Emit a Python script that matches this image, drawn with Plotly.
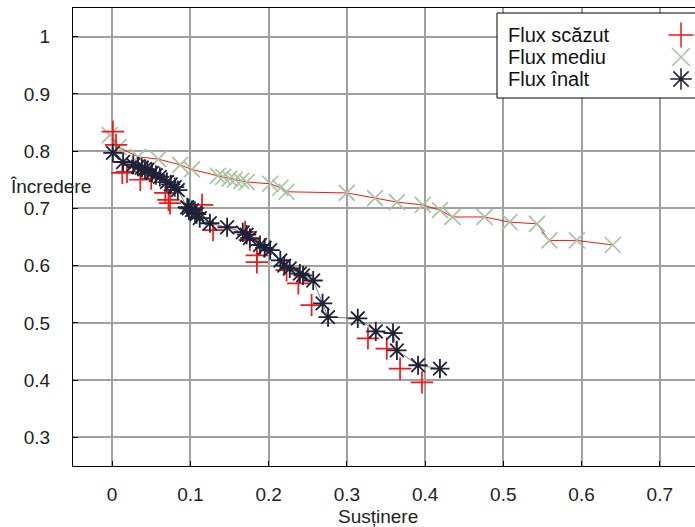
import plotly.graph_objects as go

# ---- data ----
low_x = [0.001, 0.005, 0.013, 0.019, 0.036, 0.050, 0.068, 0.072, 0.074, 0.115, 0.129, 0.170,
         0.176, 0.185, 0.185, 0.223, 0.238, 0.255, 0.327, 0.351, 0.368, 0.396]
low_y = [0.834, 0.811, 0.762, 0.764, 0.750, 0.752, 0.727, 0.715, 0.709, 0.706, 0.662, 0.659,
         0.645, 0.618, 0.606, 0.592, 0.569, 0.531, 0.473, 0.455, 0.420, 0.396]

mid_x = [-0.003, 0.008, 0.033, 0.059, 0.087, 0.102, 0.135, 0.142, 0.150, 0.157, 0.165, 0.172,
         0.202, 0.215, 0.223, 0.300, 0.336, 0.364, 0.397, 0.419, 0.435, 0.476, 0.508, 0.543,
         0.559, 0.594, 0.640]
mid_y = [0.828, 0.807, 0.790, 0.786, 0.776, 0.768, 0.757, 0.755, 0.752, 0.750, 0.748, 0.746,
         0.743, 0.736, 0.729, 0.727, 0.718, 0.711, 0.706, 0.697, 0.685, 0.685, 0.676, 0.673,
         0.644, 0.644, 0.636]

high_x = [0.001, 0.014, 0.027, 0.033, 0.038, 0.042, 0.045, 0.051, 0.056, 0.061, 0.070, 0.075,
          0.080, 0.084, 0.096, 0.098, 0.102, 0.106, 0.108, 0.112, 0.125, 0.147, 0.167, 0.172,
          0.176, 0.189, 0.195, 0.202, 0.215, 0.220, 0.227, 0.240, 0.244, 0.257, 0.269, 0.276,
          0.314, 0.337, 0.359, 0.364, 0.391, 0.419]
high_y = [0.797, 0.781, 0.776, 0.773, 0.771, 0.769, 0.767, 0.762, 0.758, 0.755, 0.746, 0.742,
          0.737, 0.732, 0.702, 0.700, 0.697, 0.692, 0.690, 0.683, 0.674, 0.667, 0.658, 0.654,
          0.648, 0.636, 0.631, 0.627, 0.609, 0.600, 0.595, 0.586, 0.583, 0.574, 0.534, 0.510,
          0.508, 0.485, 0.482, 0.452, 0.426, 0.420]

series_names = ["Flux scăzut", "Flux mediu", "Flux înalt"]
x_ticks = [0, 0.1, 0.2, 0.3, 0.4, 0.5, 0.6, 0.7]
y_ticks = [0.3, 0.4, 0.5, 0.6, 0.7, 0.8, 0.9, 1]

RED = "#f01818"
GREEN = "#a9c3a0"
NAVY = "#1d2238"
FONT = "Liberation Sans, Arial, sans-serif"

W, H = 695, 527
PL, PR, PT, PB = 73, 695, 8, 466          # plot area in pixels
L, R, T, B = PL, W - PR, PT, H - PB

fig = go.Figure()

# red connecting line through the medium-flow points
fig.add_trace(go.Scatter(x=mid_x, y=mid_y, mode="lines",
                         line=dict(color=RED, width=1), showlegend=False, hoverinfo="skip"))
# thin dark line through high-flow points
fig.add_trace(go.Scatter(x=high_x, y=high_y, mode="lines",
                         line=dict(color=NAVY, width=0.6), showlegend=False, hoverinfo="skip"))

fig.add_trace(go.Scatter(x=mid_x, y=mid_y, mode="markers", name=series_names[1],
                         marker=dict(symbol="x-thin", size=16, line=dict(color=GREEN, width=1.7)),
                         showlegend=False))
fig.add_trace(go.Scatter(x=low_x, y=low_y, mode="markers", name=series_names[0],
                         marker=dict(symbol="cross-thin", size=16, line=dict(color=RED, width=1.7)),
                         showlegend=False))
fig.add_trace(go.Scatter(x=high_x, y=high_y, mode="markers", name=series_names[2],
                         marker=dict(symbol="asterisk", size=16, line=dict(color=NAVY, width=1.8)),
                         showlegend=False))

# ---- custom legend (gnuplot style: text left, symbol right) on overlay axes ----
def px_x(px):
    return (px - PL) / (PR - PL)

def px_y(py):
    return (PB - py) / (PB - PT)

bx0, bx1, by0, by1 = px_x(497), 1.02, px_y(98), px_y(13)
fig.add_trace(go.Scatter(x=[bx0, bx1, bx1, bx0, bx0], y=[by0, by0, by1, by1, by0],
                         mode="lines", fill="toself", fillcolor="white",
                         line=dict(color="black", width=1), xaxis="x2", yaxis="y2",
                         showlegend=False, hoverinfo="skip"))
legend_rows = [35, 57, 79]
legend_syms = [("cross-thin", RED), ("x-thin", GREEN), ("asterisk", NAVY)]
for (sym, col), py, name in zip(legend_syms, legend_rows, series_names):
    fig.add_trace(go.Scatter(x=[px_x(681)], y=[px_y(py)], mode="markers",
                             marker=dict(symbol=sym, size=18, line=dict(color=col, width=1.5)),
                             xaxis="x2", yaxis="y2", showlegend=False, hoverinfo="skip"))
    fig.add_annotation(x=px_x(506), y=px_y(py), xref="paper", yref="paper",
                       text=name, showarrow=False, xanchor="left", yanchor="middle",
                       font=dict(family=FONT, size=20, color="#111"))

# axis titles
fig.add_annotation(x=px_x(50), y=px_y(187), xref="paper", yref="paper", text="Încredere",
                   showarrow=False, xanchor="center", yanchor="middle",
                   font=dict(family=FONT, size=19, color="#222"))
fig.add_annotation(x=px_x(378), y=px_y(516), xref="paper", yref="paper", text="Susținere",
                   showarrow=False, xanchor="center", yanchor="middle",
                   font=dict(family=FONT, size=19, color="#222"))

fig.update_layout(
    width=W, height=H,
    margin=dict(l=L, r=R, t=T, b=B, pad=0),
    paper_bgcolor="white", plot_bgcolor="white",
    font=dict(family=FONT, size=19, color="#222"),
    showlegend=False,
    xaxis=dict(range=[-0.05, 0.745], tickvals=x_ticks, ticktext=[f"{v:g}" for v in x_ticks],
               ticks="inside", ticklen=5, tickcolor="black", showline=True, linecolor="black",
               linewidth=1, mirror=True, showgrid=True, gridcolor="#a0a0a0", gridwidth=1.6,
               zeroline=False, ticklabelstandoff=11, tickfont=dict(size=19, color="#222")),
    yaxis=dict(range=[0.25, 1.05], tickvals=y_ticks, ticktext=[f"{v:g}" for v in y_ticks],
               ticks="inside", ticklen=5, tickcolor="black", showline=True, linecolor="black",
               linewidth=1, mirror=False, showgrid=True, gridcolor="#a0a0a0", gridwidth=1.6,
               zeroline=False, ticklabelstandoff=18, tickfont=dict(size=19, color="#222")),
    xaxis2=dict(overlaying="x", range=[0, 1], visible=False, fixedrange=True),
    yaxis2=dict(overlaying="y", range=[0, 1], visible=False, fixedrange=True),
)

fig.write_html(
    "out.html",
    config={"displayModeBar": False},
    post_script="document.documentElement.style.margin='0';document.body.style.margin='0';"
                "document.body.style.overflow='hidden';",
)
